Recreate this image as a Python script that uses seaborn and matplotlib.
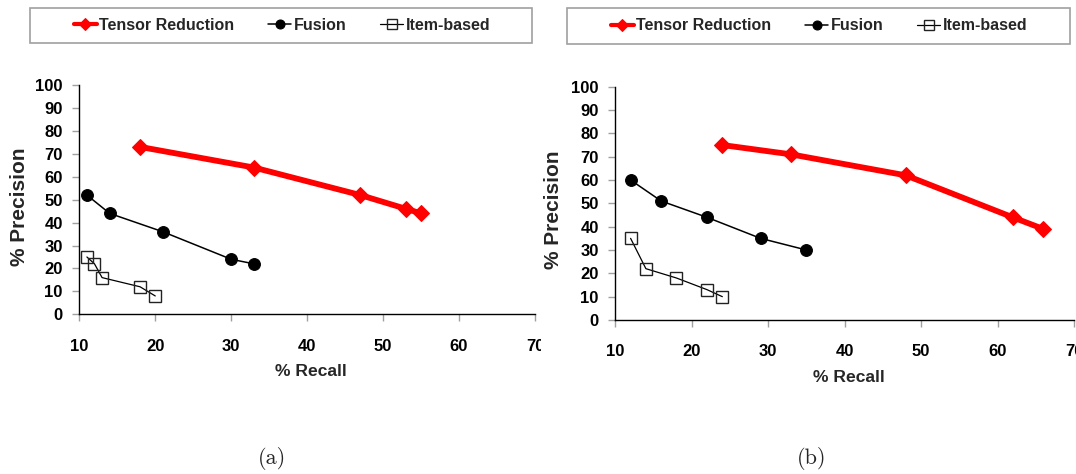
import matplotlib
matplotlib.use("Agg")
import numpy as np
import pandas as pd
import seaborn as sns
import matplotlib.pyplot as plt
from matplotlib import font_manager
from matplotlib.transforms import Bbox
from matplotlib.patches import Rectangle

# ---------------- data ----------------
series_names = ["Tensor Reduction", "Fusion", "Item-based"]

a_tensor_recall = [18, 33, 47, 53, 55]
a_tensor_precision = [73, 64, 52, 46, 44]
a_fusion_recall = [11, 14, 21, 30, 33]
a_fusion_precision = [52, 44, 36, 24, 22]
a_item_recall = [11, 12, 13, 18, 20]
a_item_precision = [25, 22, 16, 12, 8]

b_tensor_recall = [24, 33, 48, 62, 66]
b_tensor_precision = [75, 71, 62, 44, 39]
b_fusion_recall = [12, 16, 22, 29, 35]
b_fusion_precision = [60, 51, 44, 35, 30]
b_item_recall = [12, 14, 18, 22, 24]
b_item_precision = [35, 22, 18, 13, 10]

x_ticks = [10, 20, 30, 40, 50, 60, 70]
y_ticks = [0, 10, 20, 30, 40, 50, 60, 70, 80, 90, 100]
panel_labels = ["(a)", "(b)"]
x_label = "% Recall"
y_label = "% Precision"


def make_df(tr, tp, fr, fp, ir, ip):
    rows = []
    for name, rr, pp in zip(series_names, [tr, fr, ir], [tp, fp, ip]):
        for r, p in zip(rr, pp):
            rows.append({"series": name, "recall": r, "precision": p})
    return pd.DataFrame(rows)


df_a = make_df(a_tensor_recall, a_tensor_precision, a_fusion_recall,
               a_fusion_precision, a_item_recall, a_item_precision)
df_b = make_df(b_tensor_recall, b_tensor_precision, b_fusion_recall,
               b_fusion_precision, b_item_recall, b_item_precision)

# ---------------- fonts ----------------
sns.set_style("white")


def has_font(name):
    try:
        font_manager.findfont(font_manager.FontProperties(family=name),
                              fallback_to_default=False)
        return True
    except Exception:
        return False


if has_font("Liberation Sans Narrow"):
    NARROW = "Liberation Sans Narrow"
    K = 1.0
    TICK = 13
else:
    NARROW = "Liberation Sans"
    K = 0.84
    TICK = 12
WIDE = "Liberation Sans"
plt.rcParams["font.family"] = [NARROW, "DejaVu Sans"]

styles = {
    "Tensor Reduction": dict(color="#ff0000", linewidth=4.2, marker="D",
                             markersize=8, markerfacecolor="#ff0000",
                             markeredgecolor="#ff0000"),
    "Fusion": dict(color="black", linewidth=1.1, marker="o", markersize=8.5,
                   markerfacecolor="black", markeredgecolor="black"),
    "Item-based": dict(color="black", linewidth=0.9, marker="s", markersize=8,
                       markerfacecolor="none", markeredgecolor="#222222",
                       markeredgewidth=1.0),
}

W, H = 1076, 474
fig = plt.figure(figsize=(W / 100, H / 100), dpi=100)

axes_rects = [
    [79.3 / W, 1 - 314.3 / H, (535 - 79.3) / W, (314.3 - 85) / H],
    [615.3 / W, 1 - 320 / H, (1074 - 615.3) / W, (320 - 86.7) / H],
]
xlabel_pos = [(0.508, -0.2516), (0.51, -0.2465)]
ylabel_pos = [(-0.1323, 0.468), (-0.1343, 0.4715)]
legend_centers = [(282 / W, 1 - 25.5 / H), (819 / W, 1 - 26 / H)]
legend_boxes = [(30, 8, 532, 43), (567, 8, 1070, 44)]
caption_x = [272 / W, 812 / W]

axes = []
for i, df in enumerate([df_a, df_b]):
    ax = fig.add_axes(axes_rects[i])
    axes.append(ax)
    for name in series_names:
        sub = df[df["series"] == name]
        sns.lineplot(data=sub, x="recall", y="precision", ax=ax, sort=False,
                     estimator=None, label=name, clip_on=False, **styles[name])
    if ax.get_legend() is not None:
        ax.get_legend().remove()
    ax.set_xlim(10, 70)
    ax.set_ylim(0, 100)
    ax.set_xticks(x_ticks)
    ax.set_yticks(y_ticks)
    for s in ["top", "right"]:
        ax.spines[s].set_visible(False)
    for s in ["left", "bottom"]:
        ax.spines[s].set_visible(True)
        ax.spines[s].set_color("black")
        ax.spines[s].set_linewidth(1.0)
    ax.tick_params(axis="both", which="major", direction="out", length=5,
                   width=1, color="#a0a0a0", labelcolor="black",
                   labelsize=TICK, bottom=True, left=True)
    ax.tick_params(axis="x", pad=12.5)
    ax.tick_params(axis="y", pad=7.0)
    for lab in ax.get_xticklabels() + ax.get_yticklabels():
        lab.set_fontweight("bold")
        lab.set_family([NARROW, "DejaVu Sans"])
    ax.set_xlabel(x_label, fontsize=15 * K, fontweight="bold",
                  family=[NARROW, "DejaVu Sans"])
    ax.set_ylabel(y_label, fontsize=15, fontweight="bold",
                  family=[WIDE, "DejaVu Sans"])
    ax.xaxis.label.set_va("center")
    ax.yaxis.label.set_va("center")
    ax.xaxis.set_label_coords(*xlabel_pos[i])
    ax.yaxis.set_label_coords(*ylabel_pos[i])
    ax.set_facecolor("white")

    handles = ax.get_lines()[:3]
    leg = fig.legend(handles, series_names, loc="center",
                     bbox_to_anchor=legend_centers[i], ncol=3, frameon=False,
                     borderpad=0, handlelength=1.45, handletextpad=0.16,
                     columnspacing=2.1,
                     prop=dict(family=[NARROW, "DejaVu Sans"], weight="bold",
                               size=13.7 * K))
    lh = leg.legend_handles
    lh[0].set_linewidth(3.0)
    lh[0].set_markersize(6.5)
    lh[1].set_linewidth(1.1)
    lh[1].set_markersize(6.5)
    lh[2].set_linewidth(0.9)
    lh[2].set_markersize(6.5)

    x0, y0, x1, y1 = legend_boxes[i]
    fig.patches.append(Rectangle((x0 / W, 1 - y1 / H), (x1 - x0) / W,
                                 (y1 - y0) / H, transform=fig.transFigure,
                                 fill=False, edgecolor="#a0a0a0",
                                 linewidth=1.2, zorder=0))

    fig.text(caption_x[i], 1 - 459 / H, panel_labels[i], ha="center",
             va="center", fontsize=16, family=["cmr10", "DejaVu Serif"])

fig.canvas.draw()
# the original composite crops the "70" of panel (a) and the x label of (b)
clip_a = Bbox([[0, 0], [541, H]])
for lab in axes[0].get_xticklabels():
    lab.set_clip_on(True)
    lab.set_clip_box(clip_a)
clip_b = Bbox([[0, H - 383], [W, H]])
axes[1].xaxis.label.set_clip_on(True)
axes[1].xaxis.label.set_clip_box(clip_b)

fig.savefig("out.png", dpi=100, facecolor="white")
